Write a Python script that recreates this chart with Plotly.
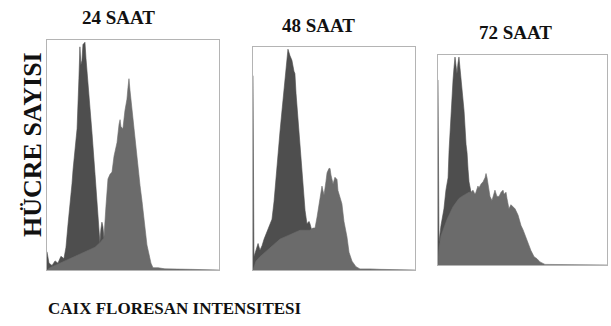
import plotly.graph_objects as go

# ---- data (channel 0-1024, relative cell count 0-100) ----
titles = ["24 SAAT", "48 SAAT", "72 SAAT"]
x_label = "CAIX FLORESAN INTENSITESI"
y_label = "HÜCRE SAYISI"

# 24 h
p1_dark_x = [0, 12, 30, 48, 65, 83, 101, 113, 125, 137, 149, 155, 167, 179, 190, 196, 202, 208, 214, 226,
             232, 244, 256, 268, 286, 298, 310, 315, 321, 327, 333, 339, 351, 375, 405]
p1_dark_y = [8, 3, 2, 4, 3, 6, 5, 10, 20, 28, 38, 44, 55, 62, 84, 98, 90, 92, 99, 100,
             93, 83, 72, 60, 42, 30, 16, 12, 18, 21, 19, 14, 8, 3, 0]
p1_light_x = [0, 18, 48, 77, 107, 137, 167, 196, 226, 256, 286, 315, 339, 351, 363, 375, 387, 399, 411, 417,
              429, 435, 440, 452, 464, 476, 482, 488, 494, 506, 518, 530, 542, 554, 566, 577, 583, 595, 607,
              619, 631, 661, 702, 792, 851, 1024]
p1_light_y = [0, 1, 2, 3, 4, 5, 6, 7, 8, 9, 10, 12, 14, 28, 40, 42, 43, 50, 54, 56,
              64, 66, 63, 62, 70, 75, 80, 84, 79, 70, 61, 53, 45, 37, 30, 22, 17, 11, 7,
              3, 1, 1, 0.5, 0.5, 0.3, 0]

# 48 h
p2_dark_x = [0, 6, 19, 32, 44, 57, 70, 88, 107, 120, 133, 145, 158, 171, 183, 196, 202, 215, 221, 234,
             246, 259, 265, 272, 278, 291, 297, 310, 316, 329, 341, 354, 360, 373, 379, 392, 411, 436]
p2_dark_y = [88, 6, 9, 12, 9, 11, 14, 17, 20, 23, 31, 42, 55, 63, 72, 82, 87, 96, 100, 97,
             95, 90, 89, 80, 74, 64, 58, 42, 36, 27, 21, 22, 21, 18, 16, 10, 3, 0]
p2_light_x = [0, 19, 44, 76, 107, 139, 171, 202, 234, 265, 297, 329, 360, 379, 392, 405, 411, 424, 436, 442,
              449, 461, 468, 480, 487, 493, 506, 518, 531, 537, 550, 562, 575, 594, 607, 626, 651, 676,
              740, 803, 1024]
p2_light_y = [0, 4, 6, 8, 10, 12, 14, 15, 16, 17, 18, 18, 18, 19, 19, 24, 27, 33, 38, 36,
              34, 40, 44, 46, 46, 43, 39, 42, 41, 36, 33, 30, 22, 15, 8, 4, 1.5, 0.5,
              0.5, 0.3, 0]

# 72 h
p3_dark_x = [0, 6, 18, 30, 36, 48, 61, 67, 73, 85, 91, 97, 103, 109, 115, 121, 127, 133, 145, 151,
             158, 170, 176, 182, 188, 200, 212, 224, 242]
p3_dark_y = [89, 11, 19, 24, 27, 36, 42, 55, 65, 82, 89, 95, 100, 96, 92, 97, 100, 95, 85, 80,
             74, 58, 54, 46, 40, 35, 20, 8, 0]
p3_light_x = [0, 6, 18, 36, 55, 73, 91, 109, 127, 145, 170, 188, 200, 212, 224, 230, 242, 248, 261, 273,
              285, 291, 297, 309, 315, 327, 339, 345, 357, 370, 382, 394, 400, 412, 418, 430, 442, 454,
              467, 485, 503, 515, 533, 551, 563, 582, 600, 618, 648, 1024]
p3_light_y = [0, 8, 14, 18, 22, 25, 28, 30, 32, 33, 34, 35, 35, 36, 34, 35, 38, 37, 39, 40,
              42, 44, 42, 35, 33, 31, 34, 36, 33, 33, 35, 36, 34, 35, 32, 27, 29, 28,
              27, 24, 19, 17, 13, 9, 7, 4, 3, 1.5, 0.3, 0]

panels = [
    (p1_dark_x, p1_dark_y, p1_light_x, p1_light_y),
    (p2_dark_x, p2_dark_y, p2_light_x, p2_light_y),
    (p3_dark_x, p3_dark_y, p3_light_x, p3_light_y),
]

# ---- layout geometry (pixels) ----
W, H = 611, 326
boxes = [(47, 219, 40, 270), (253, 415, 47, 270), (438, 607, 55, 265)]
title_pos = [(118, 17), (318, 25), (515, 33)]

DARK = "#4e4e4e"
LIGHT = "#6b6b6b"
BORDER = "#b4b4b4"
SERIF = "Liberation Serif"

fig = go.Figure()
for i, (dx, dy, lx, ly) in enumerate(panels):
    suffix = "" if i == 0 else str(i + 1)
    fig.add_trace(go.Scatter(x=dx, y=dy, mode="lines", fill="tozeroy",
                             line=dict(color=DARK, width=0.6), fillcolor=DARK,
                             xaxis="x" + suffix, yaxis="y" + suffix, showlegend=False,
                             hoverinfo="skip"))
    fig.add_trace(go.Scatter(x=lx, y=ly, mode="lines", fill="tozeroy",
                             line=dict(color=LIGHT, width=0.6), fillcolor=LIGHT,
                             xaxis="x" + suffix, yaxis="y" + suffix, showlegend=False,
                             hoverinfo="skip"))

layout = dict(width=W, height=H, margin=dict(l=0, r=0, t=0, b=0),
              paper_bgcolor="white", plot_bgcolor="white", showlegend=False)
for i, (x0, x1, yt, yb) in enumerate(boxes):
    suffix = "" if i == 0 else str(i + 1)
    layout["xaxis" + suffix] = dict(domain=[x0 / W, x1 / W], range=[0, 1024],
                                    showgrid=False, zeroline=False, showticklabels=False,
                                    ticks="", showline=True, linecolor=BORDER, linewidth=1,
                                    mirror=True, anchor="y" + suffix, fixedrange=True)
    layout["yaxis" + suffix] = dict(domain=[(H - yb) / H, (H - yt) / H], range=[0, 101],
                                    showgrid=False, zeroline=False, showticklabels=False,
                                    ticks="", showline=True, linecolor=BORDER, linewidth=1,
                                    mirror=True, anchor="x" + suffix, fixedrange=True)
fig.update_layout(**layout)

font_t = dict(family=SERIF, size=19, color="#111111", weight=700)
for t, (cx, cy) in zip(titles, title_pos):
    fig.add_annotation(text=t, x=cx / W, y=(H - cy) / H, xref="paper", yref="paper",
                       showarrow=False, xanchor="center", yanchor="middle", font=font_t)

fig.add_annotation(text=x_label, x=175 / W, y=(H - 308) / H, xref="paper", yref="paper",
                   showarrow=False, xanchor="center", yanchor="middle",
                   font=dict(family=SERIF, size=17, color="#111111", weight=700))
fig.add_annotation(text=y_label, x=32 / W, y=(H - 145) / H, xref="paper", yref="paper",
                   showarrow=False, xanchor="center", yanchor="middle", textangle=-90,
                   font=dict(family=SERIF, size=26, color="#111111", weight=700))

fig.write_html("out.html")
